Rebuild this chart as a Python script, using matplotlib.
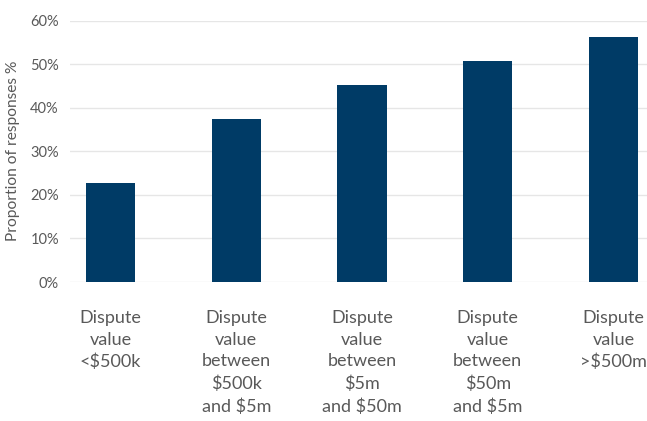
import matplotlib.pyplot as plt
from matplotlib.ticker import PercentFormatter

plt.rcParams["font.family"] = ["Lato", "DejaVu Sans"]

categories = [
    "Dispute\nvalue\n<$500k",
    "Dispute\nvalue\nbetween\n$500k\nand $5m",
    "Dispute\nvalue\nbetween\n$5m\nand $50m",
    "Dispute\nvalue\nbetween\n$50m\nand $5m",
    "Dispute\nvalue\n>$500m",
]
shares = [22.65, 37.35, 45.15, 50.65, 56.2]
y_ticks = [0, 10, 20, 30, 40, 50, 60]

NAVY = "#003b66"
GREY = "#595959"

fig = plt.figure(figsize=(6.47, 4.21), dpi=100)
ax = fig.add_axes([70 / 647, 1 - 282 / 421, 577 / 647, 261.5 / 421])

x = range(len(categories))
ax.bar(x, shares, width=0.39, color=NAVY, zorder=3)

ax.set_xlim(-0.322, 4.266)
ax.set_ylim(0, 60)
ax.set_yticks(y_ticks)
ax.yaxis.set_major_formatter(PercentFormatter(decimals=0))
ax.grid(axis="y", color="#e6e6e6", linewidth=1, zorder=0)
for s in ax.spines.values():
    s.set_visible(False)

ax.set_xticks(list(x))
ax.set_xticklabels(categories, fontsize=13, color=GREY, linespacing=1.45)
ax.tick_params(axis="x", length=0, pad=20)
ax.tick_params(axis="y", length=0, pad=8, labelsize=10.5, labelcolor=GREY)

ax.set_ylabel("Proportion of responses %", fontsize=11.2, color=GREY, labelpad=7)

fig.savefig("out.png", dpi=100, facecolor="white")
